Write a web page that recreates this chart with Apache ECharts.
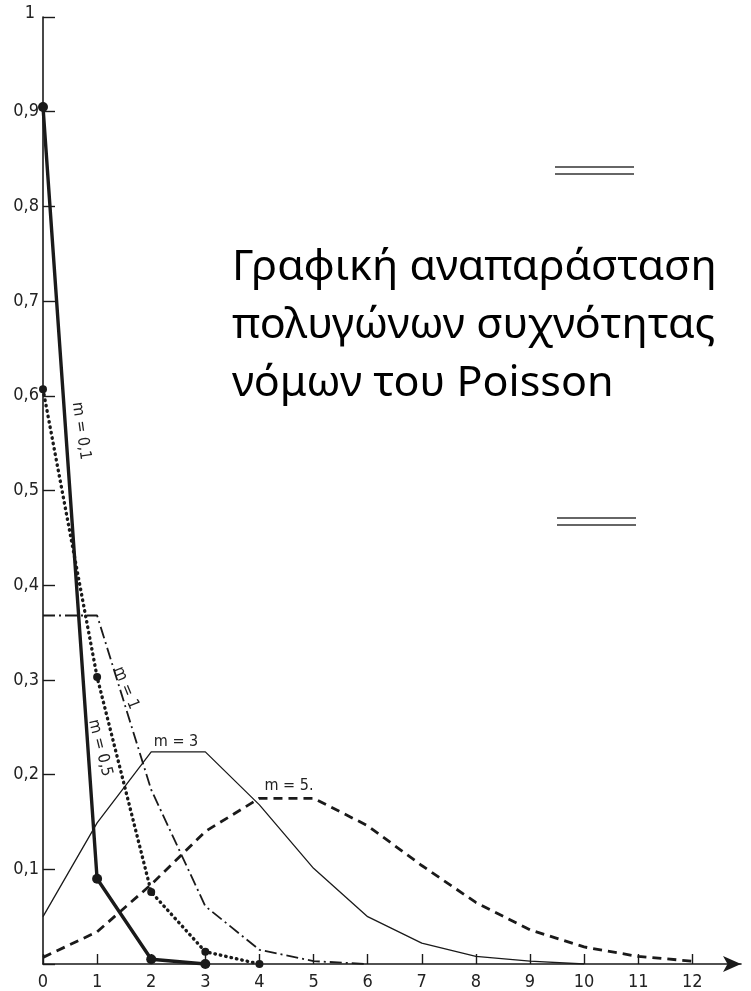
<!DOCTYPE html>
<html>
<head>
<meta charset="utf-8">
<script src="https://cdn.jsdelivr.net/npm/echarts@6/dist/echarts.min.js"></script>
<style>
  html, body { margin: 0; padding: 0; background: #fff; }
  #chart { width: 751px; height: 991px; }
</style>
</head>
<body>
<div id="chart"></div>
<script>
// Poisson frequency polygons: P(X = k) for several means m
const kValues = [0, 1, 2, 3, 4, 5, 6, 7, 8, 9, 10, 11, 12];
const xTickValues = [0, 1, 2, 3, 4, 5, 6, 7, 8, 9, 10, 11, 12];
const yTickValues = [0, 0.1, 0.2, 0.3, 0.4, 0.5, 0.6, 0.7, 0.8, 0.9, 1];

const pM01 = [0.905, 0.090, 0.005, 0.000];
const pM05 = [0.607, 0.303, 0.076, 0.013, 0.000];
const pM1 = [0.368, 0.368, 0.184, 0.061, 0.015, 0.003, 0.000];
const pM3 = [0.050, 0.149, 0.224, 0.224, 0.168, 0.101, 0.050, 0.022, 0.008, 0.003, 0.000];
const pM5 = [0.007, 0.034, 0.084, 0.140, 0.175, 0.175, 0.146, 0.104, 0.065, 0.036, 0.018, 0.008, 0.003];

const titleLines = ['Γραφική αναπαράσταση', 'πολυγώνων συχνότητας', 'νόμων του Poisson'];

const ink = '#1a1a1a';
const axisFont = "'DejaVu Sans Condensed', 'Liberation Sans Narrow', sans-serif";

function pairs(values) {
  return values.map((v, i) => [kValues[i], v]);
}

const chart = echarts.init(document.getElementById('chart'), null, { renderer: 'canvas' });

function curveLabel(text, x, y, deg, size) {
  return {
    type: 'text', x: x, y: y, rotation: -Math.PI * deg / 180,
    style: { text: text, font: size + 'px ' + axisFont, fill: '#222', align: 'center', verticalAlign: 'middle' }
  };
}

const option = {
  backgroundColor: '#ffffff',
  animation: false,
  grid: { left: 43, top: 17, right: 10, bottom: 26, containLabel: false },
  xAxis: {
    type: 'value',
    min: 0,
    max: 12.9,
    splitLine: { show: false },
    axisLine: {
      lineStyle: { color: ink, width: 1.6 },
      symbol: ['none', 'arrow'],
      symbolSize: [12, 18]
    },
    axisTick: {
      inside: true, length: 10,
      customValues: xTickValues,
      lineStyle: { color: ink, width: 1.4 }
    },
    axisLabel: {
      customValues: xTickValues,
      margin: 9,
      color: '#222',
      fontFamily: axisFont,
      fontSize: 18,
      formatter: v => String(v)
    }
  },
  yAxis: {
    type: 'value',
    min: 0,
    max: 1,
    interval: 0.1,
    splitLine: { show: false },
    axisLine: { show: true, lineStyle: { color: ink, width: 1.6 } },
    axisTick: {
      inside: true, length: 12,
      customValues: yTickValues,
      lineStyle: { color: ink, width: 1.4 }
    },
    axisLabel: {
      customValues: yTickValues,
      margin: 4,
      color: '#222',
      fontFamily: axisFont,
      fontSize: 18,
      formatter: v => (v === 0 ? '' : (v >= 1 ? '{top|1}' : v.toFixed(1).replace('.', ','))),
      rich: {
        top: { fontFamily: axisFont, fontSize: 18, color: '#222', padding: [0, 4, 8, 0] }
      }
    }
  },
  series: [
    {
      name: 'm = 0,1', type: 'line', data: pairs(pM01),
      symbol: 'circle', symbolSize: 10, showSymbol: true,
      itemStyle: { color: ink },
      lineStyle: { color: ink, width: 3.4 }
    },
    {
      name: 'm = 0,5', type: 'line', data: pairs(pM05),
      symbol: 'circle', symbolSize: 8,
      itemStyle: { color: ink },
      lineStyle: { color: ink, width: 3.4, type: [0.5, 5], cap: 'round' }
    },
    {
      name: 'm = 1', type: 'line', data: pairs(pM1),
      symbol: 'none',
      lineStyle: { color: ink, width: 1.8, type: [12, 4, 2, 4] }
    },
    {
      name: 'm = 3', type: 'line', data: pairs(pM3),
      symbol: 'none',
      lineStyle: { color: ink, width: 1.3 }
    },
    {
      name: 'm = 5', type: 'line', data: pairs(pM5),
      symbol: 'none',
      lineStyle: { color: ink, width: 2.8, type: [9, 6] }
    }
  ],
  graphic: [
    // heading block
    {
      type: 'text', x: 232, y: 239, scaleX: 1.05,
      style: {
        text: titleLines.join('\n'),
        font: "41px 'Noto Sans', 'Open Sans', sans-serif",
        lineHeight: 58,
        fill: '#000'
      }
    },
    // curve labels
    curveLabel('m = 0,1', 81, 431, 82, 16),
    curveLabel('m = 0,5', 100, 748, 76, 16),
    curveLabel('m = 1', 126, 688, 68, 16),
    curveLabel('m = 3', 176, 742, 0, 16),
    curveLabel('m = 5.', 289, 786, 0, 16),
    // double rules
    { type: 'line', shape: { x1: 555, y1: 167, x2: 634, y2: 167 }, style: { stroke: '#333', lineWidth: 1.6 } },
    { type: 'line', shape: { x1: 555, y1: 174, x2: 634, y2: 174 }, style: { stroke: '#333', lineWidth: 1.6 } },
    { type: 'line', shape: { x1: 557, y1: 518, x2: 636, y2: 518 }, style: { stroke: '#333', lineWidth: 1.6 } },
    { type: 'line', shape: { x1: 557, y1: 525, x2: 636, y2: 525 }, style: { stroke: '#333', lineWidth: 1.6 } }
  ]
};

chart.setOption(option);
</script>
</body>
</html>
